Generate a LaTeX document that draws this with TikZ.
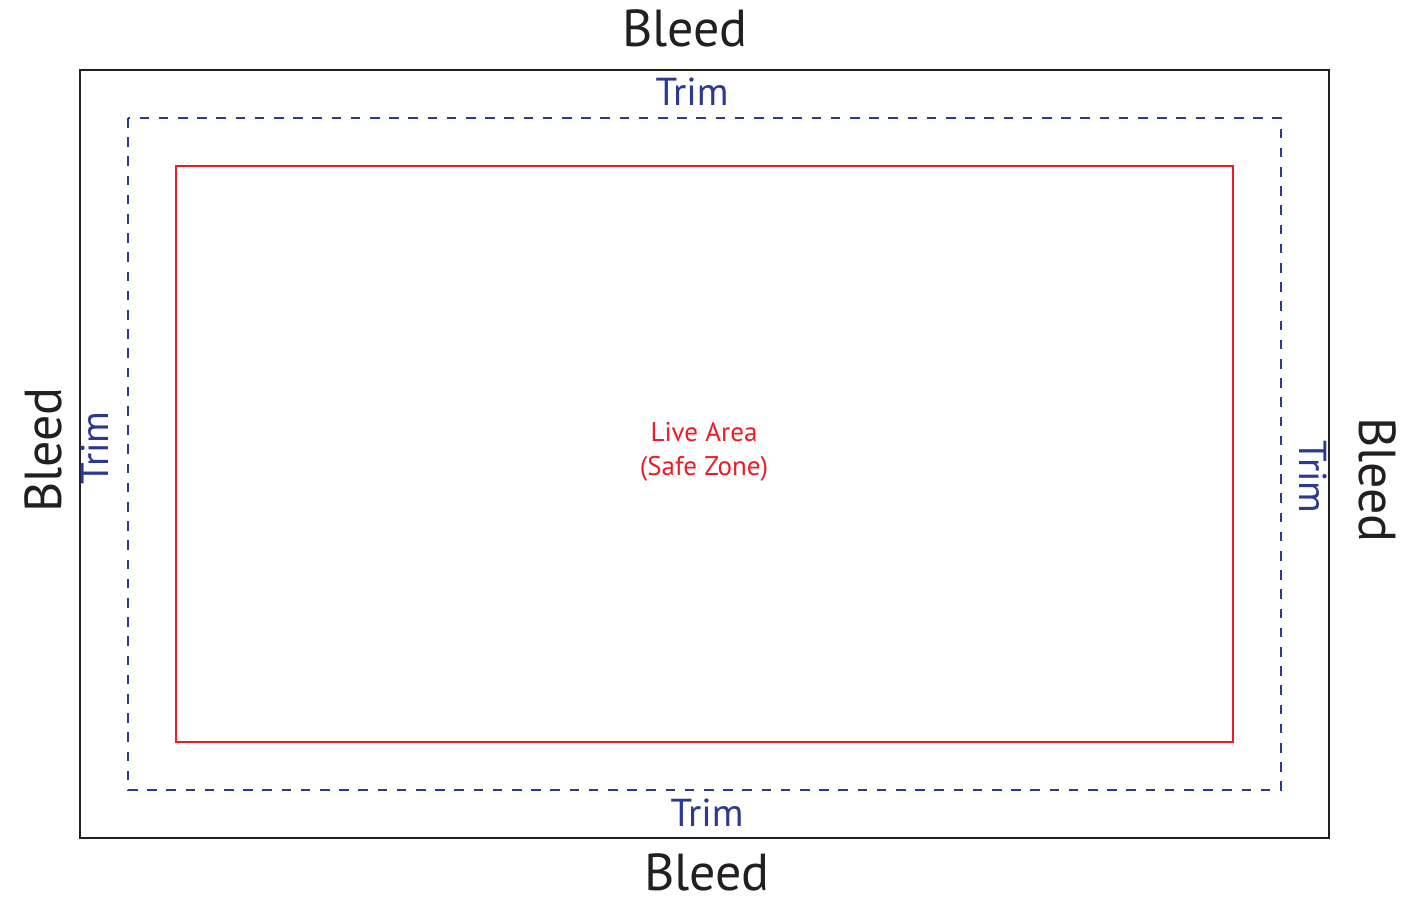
\documentclass[tikz,border=0pt]{standalone}
\usepackage{fontspec}
\setmainfont{PT Sans}
\definecolor{bleedblack}{HTML}{231F20}
\definecolor{trimblue}{HTML}{2B3990}
\definecolor{livered}{HTML}{ED1C24}
\begin{document}
\begin{tikzpicture}[x=1pt,y=-1pt,
  bleedline/.style={draw=bleedblack,line width=2.8pt},
  trimline/.style={draw=trimblue,line width=2.8pt,dash pattern=on 9.6pt off 9.6pt},
  liveline/.style={draw=livered,line width=2.8pt},
  bleedtext/.style={inner sep=0pt,anchor=base,text=bleedblack,font=\fontsize{52}{56}\selectfont},
  trimtext/.style={inner sep=0pt,anchor=base,text=trimblue,font=\fontsize{39}{44}\selectfont},
  livetext/.style={inner sep=0pt,text=livered,align=center,font=\fontsize{27}{34}\selectfont}]
\useasboundingbox (0,0) rectangle (1401,899);
\fill[white] (0,0) rectangle (1401,899);
\path[bleedline] (80,70) rectangle (1329,838);
\path[trimline] (128,118) rectangle (1281,790);
\path[liveline] (176,166) rectangle (1233,742);
\node[bleedtext] (bleedtop) at (685,47) {Bleed};
\node[bleedtext] (bleedbottom) at (707,890) {Bleed};
\node[bleedtext,rotate=90] (bleedleft) at (61,450) {Bleed};
\node[bleedtext,rotate=-90] (bleedright) at (1359,480) {Bleed};
\node[trimtext] (trimtop) at (692,106) {Trim};
\node[trimtext] (trimbottom) at (707,826) {Trim};
\node[trimtext,rotate=90] (trimleft) at (108,448) {Trim};
\node[trimtext,rotate=-90] (trimright) at (1299,477) {Trim};
\node[livetext] (live) at (704,452) {Live Area\\(Safe Zone)};
\end{tikzpicture}
\end{document}
